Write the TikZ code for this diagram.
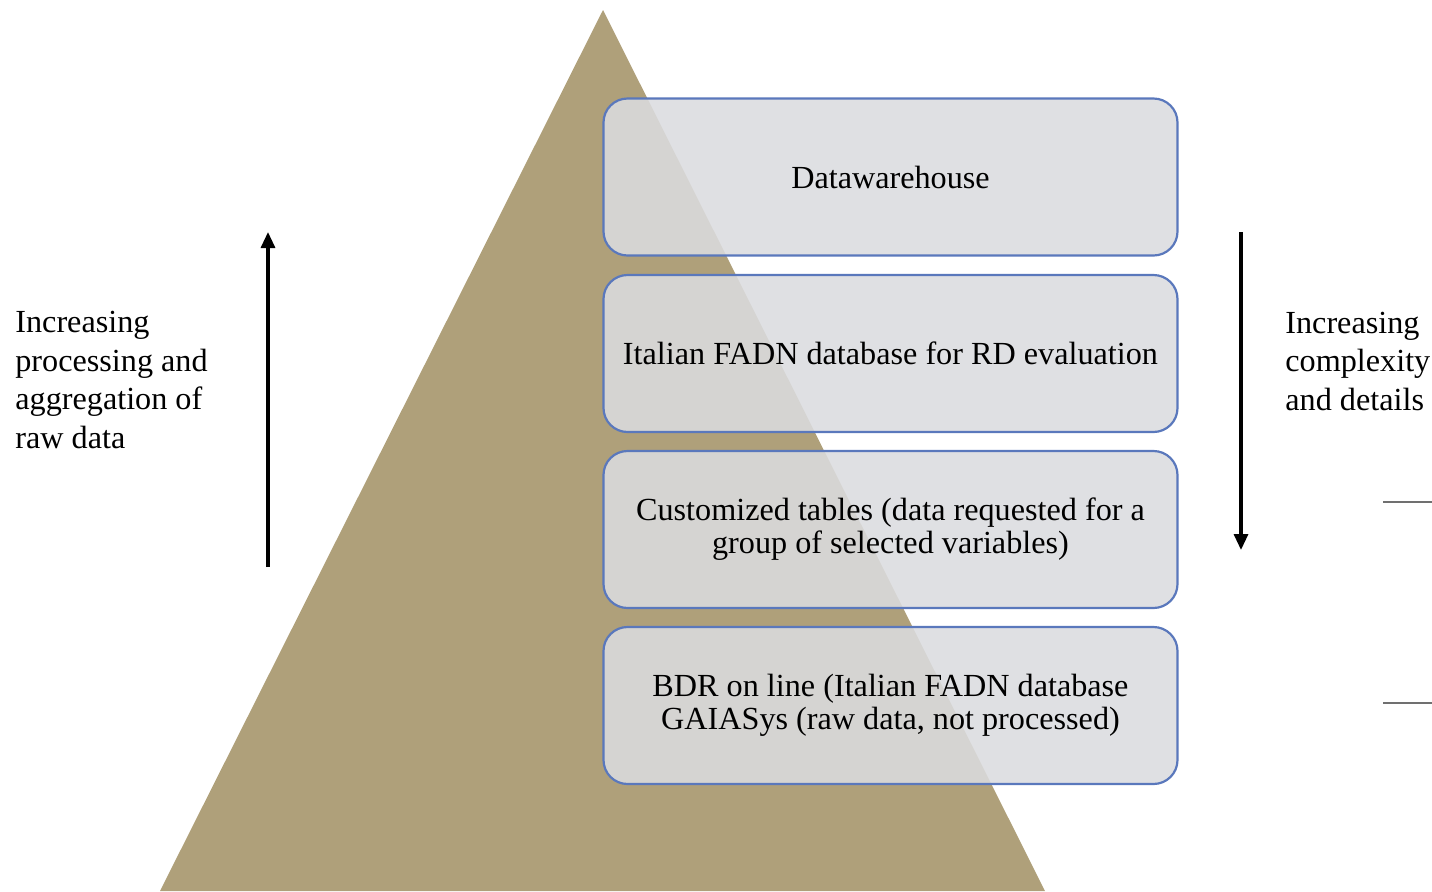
\documentclass[tikz,border=0pt]{standalone}
\usepackage{fontspec}
\setmainfont{Liberation Serif}
\usetikzlibrary{arrows.meta}
\definecolor{pyrtan}{HTML}{AFA07A}
\definecolor{boxgray}{HTML}{DBDCDF}
\definecolor{boxblue}{HTML}{5A78BC}
\definecolor{rulegray}{HTML}{707070}
\tikzset{
  layerbox/.style={draw=boxblue, line width=1.1pt, fill=boxgray, fill opacity=0.88, text opacity=1,
    rounded corners=12pt, minimum width=287pt, minimum height=78.5pt, align=center,
    font=\fontsize{16.1}{16.5}\selectfont, inner sep=0pt},
  sidetext/.style={align=left, anchor=west, inner sep=0pt, font=\fontsize{16.1}{19.25}\selectfont},
  bigarrow/.style={line width=1.6pt, -{Triangle[width=7pt,length=8pt]}},
  sideRule/.style={draw=rulegray, line width=0.6pt}
}
\begin{document}
\begin{tikzpicture}[x=0.5pt,y=-0.5pt]
\useasboundingbox (0,0) rectangle (1432,891);
\fill[pyrtan] (603,10) -- (1045,891) -- (160,891) -- cycle;
\node[layerbox] (b1) at (890.5,177) {Datawarehouse};
\node[layerbox] (b2) at (890.5,353.5) {Italian FADN database for RD evaluation};
\node[layerbox] (b3) at (890.5,529.5) {Customized tables (data requested for a\\group of selected variables)};
\node[layerbox] (b4) at (890.5,705.5) {BDR on line (Italian FADN database\\GAIASys (raw data, not processed)};
\node[sidetext] (lt) at (15,380) {Increasing\\processing and\\aggregation of\\raw data};
\node[sidetext] (rt) at (1285,361) {Increasing\\complexity\\and details};
\coordinate (la1) at (268,567);
\coordinate (la2) at (268,232);
\coordinate (ra1) at (1241,232);
\coordinate (ra2) at (1241,550);
\draw[bigarrow] (la1) -- (la2);
\draw[bigarrow] (ra1) -- (ra2);
\coordinate (r1a) at (1383,502);
\coordinate (r1b) at (1432,502);
\coordinate (r2a) at (1383,703);
\coordinate (r2b) at (1432,703);
\draw[sideRule] (r1a) -- (r1b);
\draw[sideRule] (r2a) -- (r2b);
\end{tikzpicture}
\end{document}
